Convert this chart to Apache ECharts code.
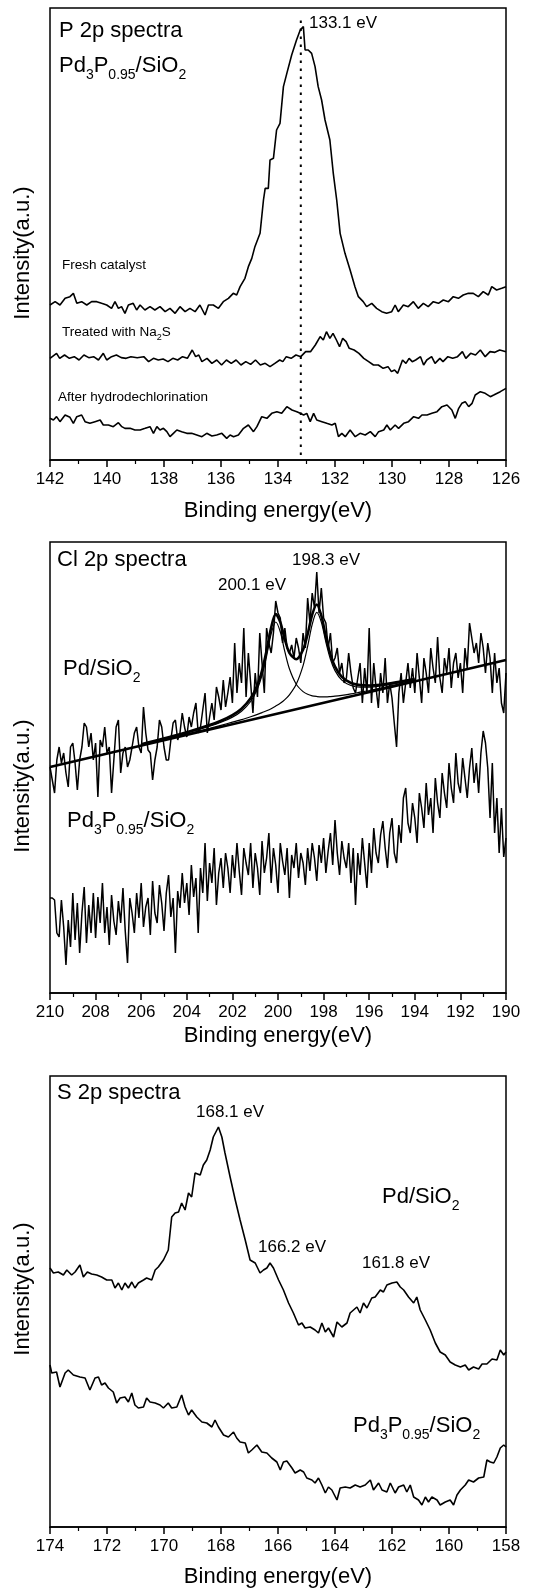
<!DOCTYPE html>
<html><head><meta charset="utf-8">
<script src="https://cdn.jsdelivr.net/npm/echarts@6/dist/echarts.min.js"></script>
<style>html,body{margin:0;padding:0;background:#fff}#c{width:536px;height:1591px}</style>
</head><body><div id="c"></div>
<script>
// ---------- Panel 1 : P 2p (energy eV, intensity a.u.) ----------
const pFresh = [[142.00,465],[141.82,475],[141.65,465],[141.47,485],[141.30,490],[141.18,500],[141.06,470],[140.89,475],[140.71,465],[140.54,475],[140.36,475],[140.19,470],[140.01,465],[139.84,455],[139.72,475],[139.60,455],[139.49,460],[139.37,440],[139.25,465],[139.08,470],[138.96,450],[138.84,465],[138.67,450],[138.49,460],[138.32,450],[138.14,460],[137.96,445],[137.79,455],[137.61,440],[137.44,460],[137.26,445],[137.09,455],[136.91,445],[136.74,465],[136.56,435],[136.44,465],[136.27,465],[136.09,455],[135.92,475],[135.74,485],[135.57,500],[135.45,495],[135.33,520],[135.16,545],[135.04,580],[134.92,605],[134.81,640],[134.63,680],[134.51,780],[134.45,815],[134.34,815],[134.28,900],[134.16,905],[134.05,990],[133.93,1010],[133.81,1120],[133.69,1160],[133.52,1215],[133.35,1260],[133.22,1290],[133.11,1300],[133.05,1230],[132.94,1230],[132.82,1220],[132.70,1180],[132.59,1120],[132.47,1080],[132.35,1020],[132.18,960],[132.06,860],[131.94,780],[131.82,680],[131.65,620],[131.47,570],[131.30,520],[131.18,490],[131.01,475],[130.89,460],[130.71,470],[130.54,455],[130.36,445],[130.19,440],[130.01,445],[129.89,465],[129.78,445],[129.60,465],[129.43,460],[129.25,475],[129.08,455],[128.90,470],[128.73,460],[128.55,475],[128.37,470],[128.20,480],[128.02,475],[127.85,490],[127.67,485],[127.50,495],[127.32,500],[127.15,500],[126.97,490],[126.80,505],[126.62,495],[126.50,520],[126.33,510],[126.15,515],[126.00,520]];
const pTreated = [[142.00,305],[141.94,310],[141.77,320],[141.66,305],[141.49,315],[141.32,305],[141.15,310],[140.98,300],[140.81,315],[140.64,307],[140.47,310],[140.30,300],[140.13,320],[140.01,300],[139.84,310],[139.67,315],[139.50,307],[139.33,305],[139.16,310],[138.94,307],[138.71,310],[138.54,295],[138.37,305],[138.20,300],[138.03,303],[137.86,295],[137.69,305],[137.52,300],[137.35,310],[137.18,305],[137.01,330],[136.89,310],[136.78,315],[136.67,295],[136.49,305],[136.32,290],[136.15,300],[135.98,285],[135.81,300],[135.64,290],[135.47,300],[135.30,285],[135.13,295],[134.96,287],[134.79,300],[134.62,285],[134.45,290],[134.28,280],[134.11,290],[133.94,300],[133.83,295],[133.71,310],[133.54,305],[133.37,315],[133.20,310],[133.03,325],[132.86,325],[132.69,345],[132.52,370],[132.41,360],[132.30,385],[132.18,365],[132.07,380],[131.95,360],[131.84,340],[131.73,365],[131.61,355],[131.50,335],[131.33,330],[131.16,320],[130.99,305],[130.82,295],[130.65,285],[130.48,285],[130.31,275],[130.14,280],[130.02,265],[129.91,270],[129.80,260],[129.63,300],[129.51,290],[129.40,305],[129.29,295],[129.17,300],[129.00,310],[128.89,285],[128.78,300],[128.61,310],[128.49,290],[128.32,305],[128.21,295],[128.04,310],[127.87,305],[127.70,310],[127.53,325],[127.41,305],[127.24,320],[127.07,315],[126.90,330],[126.73,310],[126.56,325],[126.39,323],[126.22,330],[126.00,325]];
const pAfter = [[142.00,125],[141.88,120],[141.77,130],[141.65,115],[141.47,135],[141.30,128],[141.18,110],[141.06,130],[140.89,135],[140.77,115],[140.60,110],[140.42,115],[140.24,120],[140.13,105],[139.95,105],[139.78,100],[139.60,112],[139.48,100],[139.37,95],[139.19,95],[139.02,90],[138.84,90],[138.66,95],[138.49,100],[138.37,80],[138.25,100],[138.14,90],[138.02,95],[137.90,85],[137.79,70],[137.67,80],[137.55,90],[137.38,85],[137.20,80],[137.03,80],[136.85,75],[136.67,70],[136.50,80],[136.32,72],[136.15,75],[135.97,80],[135.80,65],[135.68,75],[135.56,70],[135.39,75],[135.21,95],[135.04,105],[134.86,85],[134.74,100],[134.57,130],[134.39,125],[134.22,140],[134.04,145],[133.87,140],[133.69,160],[133.51,150],[133.34,145],[133.22,140],[133.10,135],[132.99,140],[132.87,115],[132.75,140],[132.64,120],[132.46,115],[132.29,110],[132.11,105],[131.99,110],[131.88,70],[131.76,80],[131.64,70],[131.47,90],[131.29,70],[131.12,80],[130.94,75],[130.76,85],[130.59,70],[130.47,85],[130.29,90],[130.18,105],[130.06,90],[129.89,105],[129.77,95],[129.59,110],[129.42,115],[129.24,130],[129.07,125],[128.95,135],[128.77,135],[128.60,140],[128.42,145],[128.25,160],[128.07,165],[127.90,150],[127.78,125],[127.66,155],[127.55,170],[127.43,175],[127.31,160],[127.19,170],[127.08,195],[126.90,205],[126.73,200],[126.55,190],[126.43,195],[126.20,205],[126.00,215]];
const pPeakMarker = [[133.2,15],[133.2,1320]];

// ---------- Panel 2 : Cl 2p ----------
const clEnergy = [210.0,209.9,209.8,209.7,209.6,209.5,209.4,209.3,209.2,209.1,209.0,208.9,208.8,208.7,208.6,208.5,208.4,208.3,208.2,208.1,208.0,207.9,207.8,207.7,207.6,207.5,207.4,207.3,207.2,207.1,207.0,206.9,206.8,206.7,206.6,206.5,206.4,206.3,206.2,206.1,206.0,205.9,205.8,205.7,205.6,205.5,205.4,205.3,205.2,205.1,205.0,204.9,204.8,204.7,204.6,204.5,204.4,204.3,204.2,204.1,204.0,203.9,203.8,203.7,203.6,203.5,203.4,203.3,203.2,203.1,203.0,202.9,202.8,202.7,202.6,202.5,202.4,202.3,202.2,202.1,202.0,201.9,201.8,201.7,201.6,201.5,201.4,201.3,201.2,201.1,201.0,200.9,200.8,200.7,200.6,200.5,200.4,200.3,200.2,200.1,200.0,199.9,199.8,199.7,199.6,199.5,199.4,199.3,199.2,199.1,199.0,198.9,198.8,198.7,198.6,198.5,198.4,198.3,198.2,198.1,198.0,197.9,197.8,197.7,197.6,197.5,197.4,197.3,197.2,197.1,197.0,196.9,196.8,196.7,196.6,196.5,196.4,196.3,196.2,196.1,196.0,195.9,195.8,195.7,195.6,195.5,195.4,195.3,195.2,195.1,195.0,194.9,194.8,194.7,194.6,194.5,194.4,194.3,194.2,194.1,194.0,193.9,193.8,193.7,193.6,193.5,193.4,193.3,193.2,193.1,193.0,192.9,192.8,192.7,192.6,192.5,192.4,192.3,192.2,192.1,192.0,191.9,191.8,191.7,191.6,191.5,191.4,191.3,191.2,191.1,191.0,190.9,190.8,190.7,190.6,190.5,190.4,190.3,190.2,190.1,190.0];
const clPdSiO2 = [226,213,200,233,246,230,240,220,206,246, 250,230,203,233,246,270,266,246,260,233, 250,196,253,246,266,240,246,200,233,266, 273,220,240,246,226,233,246,260,266,246, 240,286,260,243,240,213,233,246,273,266, 246,233,233,253,270,273,253,260,280,266, 256,276,266,280,290,260,266,283,300,260, 276,290,273,306,296,283,313,286,300,316, 290,350,300,330,310,365,296,340,310,280, 320,296,360,330,300,365,350,340,360,392, 380,375,350,365,345,340,348,335,355,345, 330,360,345,395,370,400,385,421,380,405, 375,370,345,360,330,335,345,320,330,310, 315,340,320,305,300,315,330,290,325,300, 365,290,330,305,285,320,300,335,290,310, 295,270,246,300,320,290,310,330,305,325, 300,340,315,290,335,320,300,345,325,310, 356,315,300,335,320,345,305,330,340,315, 330,300,345,325,370,355,340,350,330,360, 345,320,350,335,300,340,310,325,290,280,320];
const clPd3P = [95,95,93,60,56,93,66,28,73,46, 100,53,90,40,80,106,50,88,60,100, 55,96,70,110,60,86,48,98,72,58, 92,70,105,62,30,95,80,60,100,75, 110,66,86,95,58,112,80,70,108,90, 62,100,118,76,95,40,102,85,120,90, 110,78,128,96,115,60,125,100,150,92, 130,110,145,88,120,135,105,140,125,100, 138,115,150,122,98,145,130,118,150,105, 140,125,98,152,120,135,160,110,145,128, 100,150,132,118,145,95,138,125,150,115, 140,130,108,145,122,150,135,112,148,130, 155,120,142,160,128,173,140,118,152,135, 125,150,110,145,88,140,118,155,130,105, 150,120,165,140,130,158,172,145,125,160, 175,140,130,168,150,195,205,170,160,190, 175,150,200,185,165,210,178,195,160,215, 190,175,220,200,185,230,205,190,240,210, 200,235,215,195,225,245,210,230,200,240, 262,250,225,175,230,160,195,140,185,136,155];
const clBackground = [[210,226],[190,333]];
const clFitEnergy = [206,204,203,202.5,202,201.6,201.2,200.9,200.7,200.5,200.3,200.1,199.9,199.7,199.5,199.2,198.9,198.7,198.5,198.3,198.1,197.9,197.7,197.5,197.2,196.8,196.4,196,195.5,195,194];
const clComp1 = [248.2,259.9,266.7,270.7,275.9,281.8,291.5,304.2,317.8,337.0,359.1,371.0,361.2,341.3,324.2,308.8,301.4,298.7,297.2,296.5,296.1,296.1,296.4,296.8,297.7,299.1,300.8,302.5,304.9,307.4,312.4];
const clComp2 = [247.9,259.0,264.7,267.7,270.8,273.4,276.3,278.6,280.4,282.2,284.3,286.9,289.7,293.4,298.2,308.8,327.4,346.6,368.7,380.6,370.9,350.9,333.8,322.4,312.9,307.5,305.9,305.9,307.0,308.8,313.1];
const clEnvelope = [248.7,260.8,267.9,272.3,277.9,284.3,294.7,308.1,322.4,342.4,365.5,378.9,370.9,353.6,340.2,333.8,343.4,358.9,378.4,388.5,377.3,356.3,338.4,326.3,316.1,310.0,307.9,307.5,308.3,309.9,313.9];

// ---------- Panel 3 : S 2p ----------
const sPdSiO2 = [[174.00,259],[173.88,254],[173.71,255],[173.53,252],[173.41,257],[173.24,252],[173.12,255],[172.95,262],[172.83,250],[172.69,255],[172.54,253],[172.36,252],[172.19,250],[172.01,247],[171.83,247],[171.72,239],[171.60,244],[171.48,237],[171.37,244],[171.25,239],[171.13,245],[171.02,239],[170.90,244],[170.72,247],[170.61,249],[170.43,247],[170.31,257],[170.20,260],[170.02,267],[169.85,277],[169.73,310],[169.61,314],[169.49,315],[169.38,324],[169.26,317],[169.14,334],[169.03,330],[168.91,354],[168.73,352],[168.62,362],[168.50,367],[168.38,377],[168.27,390],[168.09,400],[167.97,390],[167.86,374],[167.68,350],[167.50,327],[167.33,307],[167.15,287],[166.98,267],[166.80,264],[166.63,254],[166.51,257],[166.39,259],[166.28,264],[166.16,259],[165.98,247],[165.81,237],[165.63,224],[165.46,214],[165.28,202],[165.16,204],[165.05,199],[164.87,200],[164.70,197],[164.58,194],[164.46,204],[164.34,195],[164.23,199],[164.05,190],[163.93,205],[163.76,200],[163.58,204],[163.47,214],[163.35,217],[163.23,220],[163.12,214],[163.00,224],[162.88,219],[162.71,229],[162.59,230],[162.41,237],[162.30,235],[162.18,242],[162.00,244],[161.83,245],[161.71,240],[161.59,237],[161.42,230],[161.24,224],[161.13,230],[161.01,217],[160.83,207],[160.66,197],[160.48,184],[160.31,175],[160.13,172],[159.96,165],[159.78,162],[159.60,160],[159.43,162],[159.31,157],[159.14,160],[158.96,158],[158.84,163],[158.67,163],[158.49,168],[158.32,167],[158.20,177],[158.08,172],[158.00,175]];
const sPd3P = [[174.00,162],[173.94,154],[173.77,155],[173.65,140],[173.47,154],[173.36,157],[173.18,152],[172.95,150],[172.77,149],[172.60,137],[172.42,149],[172.30,150],[172.19,142],[172.07,144],[171.95,139],[171.78,135],[171.66,124],[171.54,129],[171.37,130],[171.25,125],[171.13,134],[171.02,122],[170.90,119],[170.72,120],[170.61,129],[170.49,125],[170.31,124],[170.14,122],[170.02,119],[169.85,124],[169.73,119],[169.55,120],[169.38,132],[169.26,120],[169.14,112],[169.03,117],[168.85,110],[168.67,105],[168.50,104],[168.32,100],[168.21,107],[168.09,100],[167.91,92],[167.74,90],[167.56,95],[167.45,89],[167.33,85],[167.15,84],[167.04,74],[166.92,77],[166.74,82],[166.57,75],[166.39,74],[166.22,69],[166.04,65],[165.92,57],[165.81,65],[165.69,66],[165.51,59],[165.40,54],[165.22,57],[165.10,55],[164.99,49],[164.81,47],[164.70,44],[164.58,49],[164.46,42],[164.34,34],[164.23,40],[164.11,37],[163.93,27],[163.82,39],[163.64,40],[163.47,39],[163.29,42],[163.12,40],[162.94,42],[162.76,47],[162.65,37],[162.47,44],[162.35,37],[162.18,35],[162.06,44],[161.89,34],[161.77,40],[161.59,42],[161.48,35],[161.36,42],[161.24,30],[161.07,27],[160.95,22],[160.83,30],[160.72,25],[160.60,30],[160.42,27],[160.31,22],[160.13,25],[159.96,27],[159.84,22],[159.72,32],[159.60,37],[159.43,42],[159.31,47],[159.14,45],[158.96,49],[158.78,50],[158.67,67],[158.55,65],[158.43,64],[158.32,70],[158.20,79],[158.08,82],[158.00,80]];

// ---------- ticks ----------
const pRange = [126, 142], clRange = [190, 210], sRange = [158, 174];
const tickStep = 2;

const FONT = 'Liberation Sans, Arial, Helvetica, sans-serif';
const chart = echarts.init(document.getElementById('c'), null, {renderer: 'canvas'});

const grids = [
  {left: 50, top: 8, width: 456, height: 452},
  {left: 50, top: 542, width: 456, height: 451},
  {left: 50, top: 1076, width: 456, height: 451}
].map(g => Object.assign(g, {show: true, borderColor: '#000', borderWidth: 1.5, backgroundColor: 'transparent'}));

function xAx(i, range, gap) {
  return {
    type: 'value', gridIndex: i, min: range[0], max: range[1], interval: tickStep, inverse: true,
    axisLine: {onZero: false, lineStyle: {color: '#000', width: 1.5}},
    axisTick: {inside: false, length: 7, lineStyle: {color: '#000', width: 1.5}},
    minorTick: {show: true, splitNumber: 2, length: 4, lineStyle: {color: '#000', width: 1.2}},
    axisLabel: {color: '#000', fontSize: 17, margin: 11, fontFamily: FONT, showMinLabel: true, showMaxLabel: true},
    splitLine: {show: false}, minorSplitLine: {show: false},
    name: 'Binding energy(eV)', nameLocation: 'middle', nameGap: gap,
    nameTextStyle: {color: '#000', fontSize: 22, fontFamily: FONT}
  };
}
function yAx(i, max) {
  return {type: 'value', gridIndex: i, min: 0, max: max, show: false, splitLine: {show: false}};
}
function line(xi, data, w, color, extra) {
  return Object.assign({type: 'line', xAxisIndex: xi, yAxisIndex: xi, data: data, showSymbol: false, symbol: 'none',
    lineStyle: {color: color || '#000', width: w}, silent: true, animation: false, z: 3}, extra || {});
}
const zip = (xs, ys) => xs.map((x, k) => [x, ys[k]]);

const sub = (fs, sfs, pad) => ({
  a: {fontSize: fs, lineHeight: fs + 4, fontFamily: FONT, color: '#000', verticalAlign: 'top'},
  s: {fontSize: sfs, lineHeight: sfs + 2, fontFamily: FONT, color: '#000', verticalAlign: 'top', padding: [pad, 0, 0, 0]}
});
function txt(x, y, t, fs, opts) {
  return Object.assign({type: 'text', x: x, y: y, silent: true,
    style: {text: t, fontSize: fs, fontFamily: FONT, fill: '#000', textAlign: 'left', textVerticalAlign: 'middle'}}, opts || {});
}
function rich(x, y, t, fs, sfs, pad) {
  return {type: 'text', x: x, y: y, silent: true,
    style: {text: t, rich: sub(fs, sfs, pad), fill: '#000', textAlign: 'left', textVerticalAlign: 'top'}};
}
function ylab(x, y) {
  return {type: 'text', x: x, y: y, rotation: Math.PI / 2, silent: true,
    style: {text: 'Intensity(a.u.)', fontSize: 22, fontFamily: FONT, fill: '#000', textAlign: 'center', textVerticalAlign: 'middle'}};
}

const option = {
  backgroundColor: '#fff',
  animation: false,
  grid: grids,
  xAxis: [xAx(0, pRange, 40), xAx(1, clRange, 32), xAx(2, sRange, 39)],
  yAxis: [yAx(0, 1356), yAx(1, 451), yAx(2, 451)],
  series: [
    line(0, pFresh, 1.6),
    line(0, pTreated, 1.6),
    line(0, pAfter, 1.6),
    line(0, pPeakMarker, 2, '#000', {lineStyle: {color: '#000', width: 2, type: [2.5, 5.5]}}),
    line(1, zip(clEnergy, clPdSiO2), 1.5),
    line(1, zip(clEnergy, clPd3P), 1.5),
    line(1, zip(clFitEnergy, clComp1), 1.2, '#000', {smooth: 0.3}),
    line(1, zip(clFitEnergy, clComp2), 1.2, '#000', {smooth: 0.3}),
    line(1, zip(clFitEnergy, clEnvelope), 2.6, '#000', {smooth: 0.3}),
    line(1, clBackground, 2.6),
    line(2, sPdSiO2, 1.6),
    line(2, sPd3P, 1.6)
  ],
  graphic: [
    ylab(23, 253), ylab(23, 786), ylab(23, 1289),
    txt(59, 31, 'P 2p spectra', 22),
    rich(59, 55, '{a|Pd}{s|3}{a|P}{s|0.95}{a|/SiO}{s|2}', 22, 14, 13),
    txt(309, 23, '133.1 eV', 17),
    txt(62, 265, 'Fresh catalyst', 13.5),
    rich(62, 325, '{a|Treated with Na}{s|2}{a|S}', 13.5, 9, 8),
    txt(58, 397, 'After hydrodechlorination', 13.5),
    txt(57, 560, 'Cl 2p spectra', 22),
    txt(218, 585, '200.1 eV', 17),
    txt(292, 560, '198.3 eV', 17),
    rich(63, 658, '{a|Pd/SiO}{s|2}', 22, 14, 13),
    rich(67, 810, '{a|Pd}{s|3}{a|P}{s|0.95}{a|/SiO}{s|2}', 22, 14, 13),
    txt(57, 1093, 'S 2p spectra', 22),
    txt(196, 1112, '168.1 eV', 17),
    rich(382, 1186, '{a|Pd/SiO}{s|2}', 22, 14, 13),
    txt(258, 1247, '166.2 eV', 17),
    txt(362, 1263, '161.8 eV', 17),
    rich(353, 1415, '{a|Pd}{s|3}{a|P}{s|0.95}{a|/SiO}{s|2}', 22, 14, 13)
  ]
};
chart.setOption(option);
</script>
</body></html>
